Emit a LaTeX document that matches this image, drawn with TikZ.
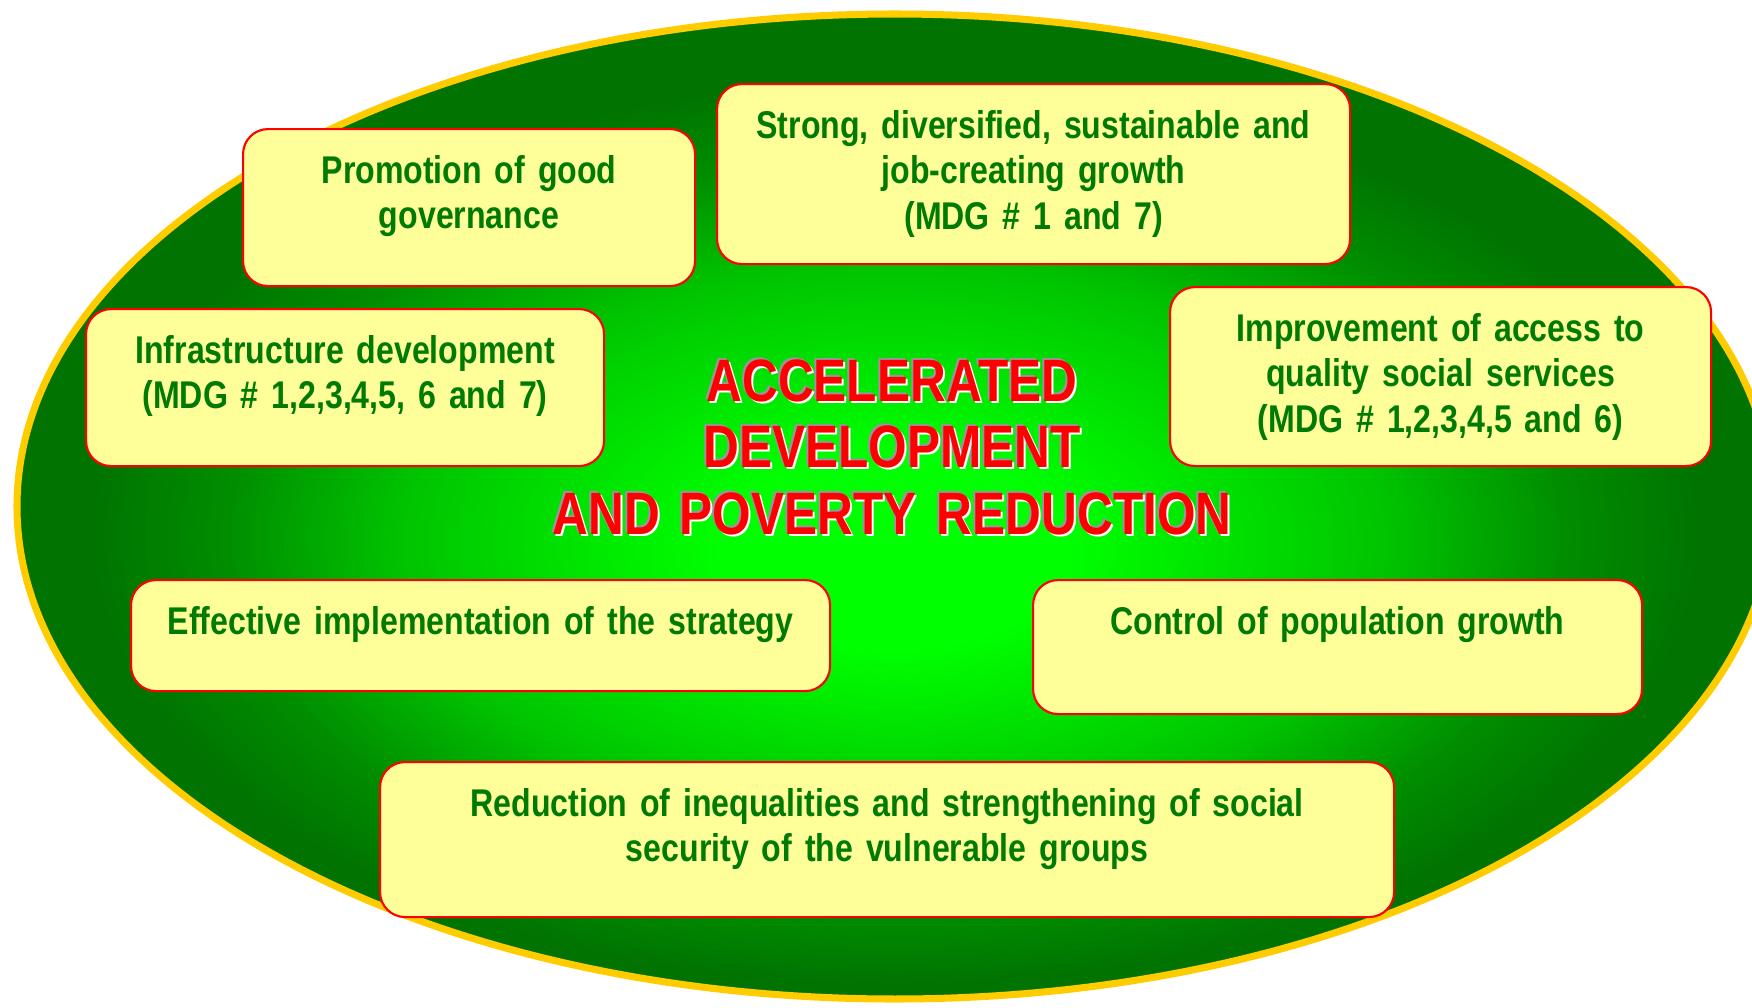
\documentclass[tikz,border=0pt]{standalone}
\usepackage{fontspec}
\setmainfont[FakeStretch=0.83, WordSpace=0.8]{Liberation Sans}
\usepackage{tikz}

\definecolor{gold}{HTML}{FFCC00}
\definecolor{boxfill}{HTML}{FFFF99}
\definecolor{boxedge}{HTML}{FF0000}
\definecolor{leafgreen}{HTML}{007A00}
\definecolor{shadowgray}{HTML}{969696}
\definecolor{glowin}{HTML}{00FF00}
\definecolor{glowmid}{HTML}{00C400}
\definecolor{glowdim}{HTML}{008E00}
\definecolor{glowout}{HTML}{007300}

\pgfdeclareradialshading{glow}{\pgfpoint{0bp}{-2.5bp}}{color(0bp)=(glowin); color(5bp)=(glowin); color(14bp)=(glowmid); color(19bp)=(glowdim); color(23bp)=(glowout); color(50bp)=(glowout)}

\begin{document}
\begin{tikzpicture}[
    goal/.style={draw=boxedge, line width=0.6pt, fill=boxfill, rounded corners=0.25cm,
      anchor=north west, inner sep=0pt, text height=0.54cm, align=center,
      text=leafgreen, font=\fontsize{11}{13}\selectfont\bfseries},
    headline/.style={anchor=base, text width=8cm, align=center,
      font=\fontsize{17}{19}\selectfont\bfseries}]
  \useasboundingbox (0,0) rectangle (17.52,-10.07);
  \clip (0,0) rectangle (17.52,-10.07);
  \path[shading=glow, draw=gold, line width=2pt] (8.95,-5.065) ellipse (8.78cm and 4.925cm);
  % the seven strategic axes
  \node[goal, text width=4.52cm, text depth=1.03cm] (gov) at (2.42,-1.28) {Promotion of good\\ governance};
  \node[goal, text width=6.33cm, text depth=1.26cm] (growth) at (7.16,-0.83) {Strong, diversified, sustainable and\\ job-creating growth\\ (MDG \# 1 and 7)};
  \node[goal, text width=5.18cm, text depth=1.03cm] (infra) at (0.85,-3.08) {Infrastructure development\\ (MDG \# 1,2,3,4,5, 6 and 7)};
  \node[goal, text width=5.41cm, text depth=1.25cm] (social) at (11.69,-2.86) {Improvement of access to\\ quality social services\\ (MDG \# 1,2,3,4,5 and 6)};
  \node[goal, text width=6.99cm, text depth=0.57cm] (impl) at (1.30,-5.79) {Effective implementation of the strategy};
  \node[goal, text width=6.09cm, text depth=0.80cm] (pop) at (10.32,-5.79) {Control of population growth};
  \node[goal, text width=10.14cm, text depth=1.01cm] (ineq) at (3.79,-7.61) {Reduction of inequalities and strengthening of social\\ security of the vulnerable groups};
  % centre title, shadows first
  \node[headline, text=shadowgray] (titlegray) at (8.90,-3.99) {ACCELERATED\\ DEVELOPMENT\\ AND POVERTY REDUCTION};
  \node[headline, text=white] (titlewhite) at (8.94,-4.03) {ACCELERATED\\ DEVELOPMENT\\ AND POVERTY REDUCTION};
  \node[headline, text=red] (title) at (8.92,-4.01) {ACCELERATED\\ DEVELOPMENT\\ AND POVERTY REDUCTION};
\end{tikzpicture}
\end{document}
